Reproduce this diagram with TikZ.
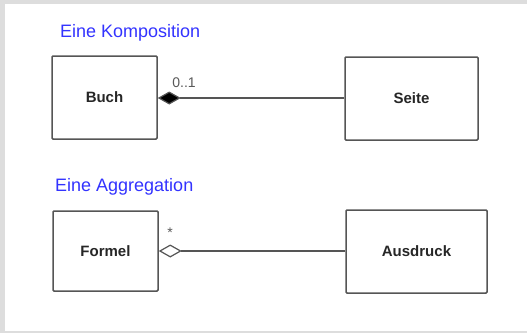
\documentclass[tikz,border=0pt]{standalone}
\usepackage{fontspec}
\setmainfont{Liberation Sans}
\usetikzlibrary{arrows.meta}

\definecolor{titleblue}{RGB}{51,51,255}
\definecolor{framegray}{RGB}{221,221,221}
\definecolor{linegray}{RGB}{85,85,85}

\begin{document}
\begin{tikzpicture}[x=1pt, y=-1pt,
    klasse/.style={draw=linegray, line width=1.5pt, rounded corners=1pt, fill=white,
        font=\fontsize{15}{17}\selectfont\bfseries, text=black!85, inner sep=0pt},
    titel/.style={font=\fontsize{18}{21}\selectfont, text=titleblue, anchor=west, inner sep=0pt},
    mult/.style={font=\fontsize{14}{16}\selectfont, text=black!65, inner sep=0pt},
    verbindung/.style={draw=linegray, line width=1.2pt}]
    % Background and frame
    \fill[framegray] (0,0) rectangle (527,333);
    \fill[white] (5,4) rectangle (527,331);
    \useasboundingbox (0,0) rectangle (527,333);

    % Define nodes
    \node[titel] (tkomp) at (60,33) {Eine Komposition};
    \node[klasse, minimum width=105pt, minimum height=83pt] (buch) at (104.5,97.5) {Buch};
    \node[klasse, minimum width=133pt, minimum height=83pt] (seite) at (411.5,98.5) {Seite};

    \node[titel] (tagg) at (55,187) {Eine Aggregation};
    \node[klasse, minimum width=105pt, minimum height=80pt] (formel) at (105.5,251) {Formel};
    \node[klasse, minimum width=141pt, minimum height=83pt] (ausdruck) at (416.5,251.5) {Ausdruck};

    % Connect nodes
    \draw[verbindung, -{Diamond[length=23pt, width=13pt, fill=black]}]
        (seite.west |- 0,98) -- (buch.east |- 0,98);
    \draw[verbindung, -{Diamond[length=23pt, width=13pt, open, fill=white]}]
        (ausdruck.west |- 0,251) -- (formel.east |- 0,251);

    % Multiplicities
    \node[mult] (mbuch) at (184,83) {0..1};
    \node[mult] (mformel) at (170,233) {*};
\end{tikzpicture}
\end{document}
